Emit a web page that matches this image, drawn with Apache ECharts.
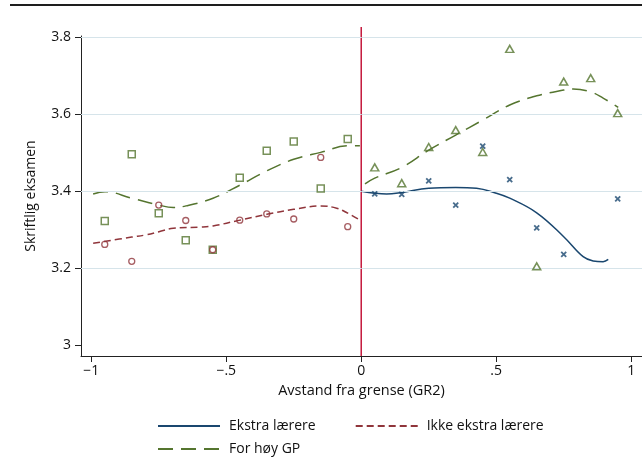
<!DOCTYPE html>
<html><head><meta charset="utf-8">
<script src="https://cdn.jsdelivr.net/npm/echarts@6/dist/echarts.min.js"></script>
<style>html,body{margin:0;padding:0;background:#fff}#c{width:642px;height:470px}</style>
</head><body><div id="c"></div>
<script>
// ---- data ----
const xTicks = [-1, -0.5, 0, 0.5, 1];
const yTicks = [3, 3.2, 3.4, 3.6, 3.8];
const gridValues = [3.2, 3.4, 3.6, 3.8];

const leftBinsX = [-0.95, -0.85, -0.75, -0.65, -0.55, -0.45, -0.35, -0.25, -0.15, -0.05];
const gpLeftY   = [3.323, 3.496, 3.343, 3.273, 3.248, 3.435, 3.505, 3.529, 3.407, 3.536];
const ikkeY     = [3.262, 3.218, 3.364, 3.324, 3.248, 3.325, 3.341, 3.328, 3.488, 3.308];

const rightBinsX = [0.05, 0.15, 0.25, 0.35, 0.45, 0.55, 0.65, 0.75, 0.85, 0.95];
const gpRightY   = [3.462, 3.421, 3.515, 3.559, 3.502, 3.770, 3.205, 3.685, 3.694, 3.603];

const ekstraX = [0.05, 0.15, 0.25, 0.35, 0.45, 0.55, 0.65, 0.75, 0.95];
const ekstraY = [3.393, 3.392, 3.427, 3.364, 3.517, 3.430, 3.305, 3.236, 3.380];

const ekstraFitX = [0, 0.05, 0.094, 0.15, 0.25, 0.35, 0.427, 0.5, 0.55, 0.65, 0.75, 0.822, 0.859, 0.896, 0.915];
const ekstraFitY = [3.400, 3.395, 3.393, 3.397, 3.408, 3.410, 3.408, 3.395, 3.382, 3.344, 3.282, 3.230, 3.219, 3.217, 3.223];

const ikkeFitX = [-0.993, -0.85, -0.795, -0.749, -0.696, -0.597, -0.549, -0.449, -0.35, -0.25, -0.15, -0.091, -0.05, -0.005];
const ikkeFitY = [3.265, 3.281, 3.287, 3.295, 3.304, 3.307, 3.310, 3.325, 3.340, 3.353, 3.362, 3.356, 3.343, 3.325];

const gpFitLeftX = [-0.993, -0.949, -0.85, -0.749, -0.696, -0.649, -0.549, -0.449, -0.35, -0.25, -0.15, -0.05, -0.005];
const gpFitLeftY = [3.393, 3.399, 3.382, 3.364, 3.358, 3.362, 3.382, 3.416, 3.453, 3.483, 3.501, 3.518, 3.518];

const gpFitRightX = [0.014, 0.05, 0.15, 0.25, 0.35, 0.45, 0.55, 0.65, 0.75, 0.785, 0.847, 0.896, 0.952];
const gpFitRightY = [3.419, 3.434, 3.462, 3.507, 3.546, 3.585, 3.624, 3.648, 3.663, 3.666, 3.659, 3.642, 3.618];

const cutoffX = [0, 0];
const cutoffY = [2.972, 3.827];

// ---- styling ----
const NAVY = '#1a476f', MAROON = '#90353b', GREEN = '#55752f', CUT = '#c4183c';
const FONT = 'Open Sans';
const zip = (xs, ys) => xs.map((x, i) => [x, ys[i]]);

function fmtX(v) {
  const r = Math.round(v * 10) / 10;
  if (r === 0) return '0';
  const a = Math.abs(r);
  const s = a === 1 ? '1' : '.5';
  return (r < 0 ? '\u2212' : '') + s;
}
function fmtY(v) {
  const r = Math.round(v * 10) / 10;
  return r === 3 ? '3' : r.toFixed(1);
}

const legendCommon = {
  orient: 'horizontal', padding: 0,
  itemWidth: 62, itemHeight: 14, itemGap: 39,
  itemStyle: { opacity: 0 },
  textStyle: { fontFamily: FONT, fontSize: 14, color: '#111', padding: [0, 0, 0, 4] },
  selectedMode: false
};

const chart = echarts.init(document.getElementById('c'), null, { renderer: 'canvas' });
chart.setOption({
  animation: false,
  backgroundColor: '#fff',
  textStyle: { fontFamily: FONT, color: '#111' },
  grid: { left: 81, right: 0, top: 36, bottom: 114, containLabel: false },
  graphic: [{
    type: 'line', shape: { x1: 10, y1: 5, x2: 642, y2: 5 },
    style: { stroke: '#1e1e1e', lineWidth: 2 }, silent: true
  }],
  legend: [
    Object.assign({}, legendCommon, { data: ['Ekstra lærere', 'Ikke ekstra lærere'], left: 157, top: 419 }),
    Object.assign({}, legendCommon, { data: ['For høy GP'], left: 157, top: 442 })
  ],
  xAxis: {
    type: 'value', min: -1.038, max: 1.04,
    name: 'Avstand fra grense (GR2)', nameLocation: 'middle', nameGap: 21,
    nameTextStyle: { fontFamily: FONT, fontSize: 14.5, color: '#111' },
    axisLine: { show: true, onZero: false, lineStyle: { color: '#222', width: 1 } },
    axisTick: { show: true, length: 6, customValues: xTicks, lineStyle: { color: '#222' } },
    axisLabel: { customValues: xTicks, formatter: fmtX, margin: 8, fontFamily: FONT, fontSize: 14, color: '#111' },
    splitLine: { show: false }
  },
  yAxis: {
    type: 'value', min: 2.972, max: 3.8034,
    name: 'Skriftlig eksamen', nameLocation: 'middle', nameGap: 43,
    nameTextStyle: { fontFamily: FONT, fontSize: 14, color: '#111' },
    axisLine: { show: true, onZero: false, lineStyle: { color: '#222', width: 1 } },
    axisTick: { show: true, length: 6, customValues: yTicks, lineStyle: { color: '#222' } },
    axisLabel: { customValues: yTicks, formatter: fmtY, margin: 10, fontFamily: FONT, fontSize: 14, color: '#111' },
    splitLine: { show: false }
  },
  series: [
    {
      name: 'grid', type: 'line', data: [], z: 1, silent: true,
      markLine: {
        silent: true, symbol: 'none', label: { show: false },
        lineStyle: { color: '#d6e4ea', width: 1, type: 'solid' },
        data: gridValues.map(v => ({ yAxis: v }))
      }
    },
    {
      name: 'cutoff', type: 'line', data: zip(cutoffX, cutoffY), clip: false, z: 3,
      symbol: 'none', silent: true, lineStyle: { color: CUT, width: 1.5 }
    },
    {
      name: 'Ekstra lærere', type: 'line', data: zip(ekstraFitX, ekstraFitY), smooth: 0.4,
      symbol: 'none', lineStyle: { color: NAVY, width: 1.5, type: 'solid' }, itemStyle: { color: NAVY }, z: 4
    },
    {
      name: 'Ikke ekstra lærere', type: 'line', data: zip(ikkeFitX, ikkeFitY), smooth: 0.4,
      symbol: 'none', lineStyle: { color: MAROON, width: 1.5, type: [7, 4] }, itemStyle: { color: MAROON }, z: 4
    },
    {
      name: 'For høy GP', type: 'line', data: zip(gpFitLeftX, gpFitLeftY), smooth: 0.4,
      symbol: 'none', lineStyle: { color: GREEN, width: 1.5, type: [15, 8] }, itemStyle: { color: GREEN }, z: 4
    },
    {
      name: 'For høy GP', type: 'line', data: zip(gpFitRightX, gpFitRightY), smooth: 0.4,
      symbol: 'none', lineStyle: { color: GREEN, width: 1.5, type: [15, 8] }, itemStyle: { color: GREEN }, z: 4
    },
    {
      name: 'gp-left-pts', type: 'scatter', data: zip(leftBinsX, gpLeftY), symbol: 'rect', symbolSize: 7,
      itemStyle: { color: 'rgba(0,0,0,0)', borderColor: GREEN, borderWidth: 1.5 }, z: 5
    },
    {
      name: 'ikke-pts', type: 'scatter', data: zip(leftBinsX, ikkeY), symbol: 'circle', symbolSize: 6,
      itemStyle: { color: 'rgba(0,0,0,0)', borderColor: MAROON, borderWidth: 1.3 }, z: 5
    },
    {
      name: 'gp-right-pts', type: 'scatter', data: zip(rightBinsX, gpRightY), symbol: 'triangle', symbolSize: [8, 7],
      itemStyle: { color: 'rgba(0,0,0,0)', borderColor: GREEN, borderWidth: 1.5 }, z: 5
    },
    {
      name: 'ekstra-pts', type: 'scatter', data: zip(ekstraX, ekstraY), symbol: 'path://M0,0L10,10M10,0L0,10', symbolSize: 5,
      itemStyle: { color: 'none', borderColor: NAVY, borderWidth: 1.8 }, z: 5
    }
  ]
});
</script></body></html>
